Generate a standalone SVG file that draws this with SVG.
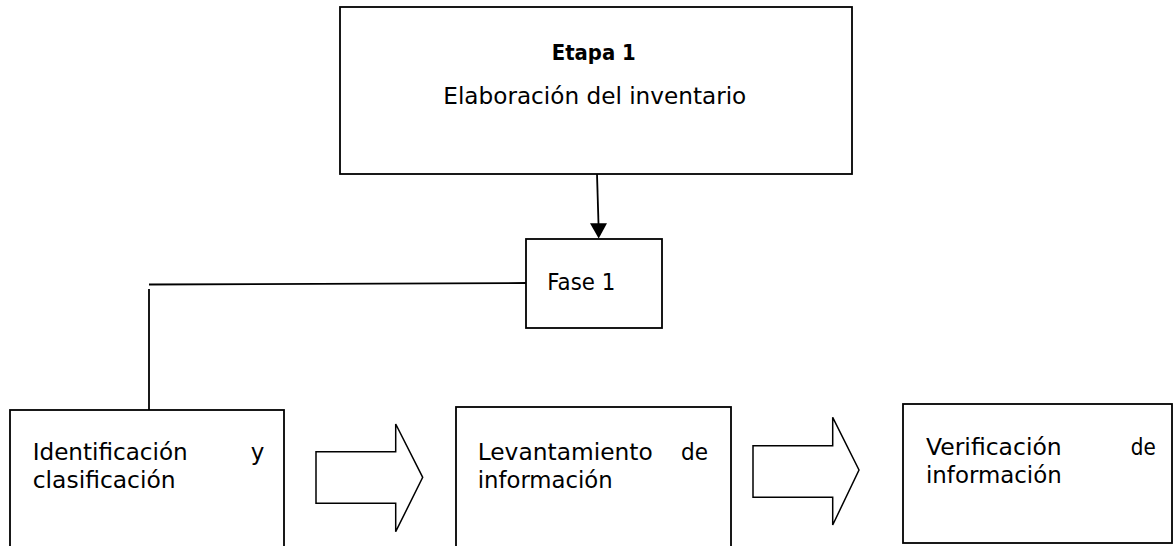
<svg xmlns="http://www.w3.org/2000/svg" width="1174" height="546" viewBox="0 0 1174 546">
<defs>
<style>
.box{fill:#fff;stroke:#000;stroke-width:1.8}
.ln{fill:none;stroke:#000;stroke-width:1.8}
.blk{fill:#fff;stroke:#000;stroke-width:1.5;stroke-linejoin:miter}
.t{font-family:"DejaVu Sans","Liberation Sans",sans-serif;font-size:23px;fill:#000}
.b{font-weight:bold;font-size:22px}
</style>
</defs>
<rect width="1174" height="546" fill="#fff"/>
<g id="connectors">
<line class="ln" x1="597" y1="174" x2="598.5" y2="224"/>
<polygon points="590,223.3 607,223.3 598.7,238.5" fill="#000"/>
<polyline class="ln" points="526,283 149,284.5"/>
<line class="ln" x1="149" y1="289" x2="149" y2="410"/>
<polygon class="blk" points="316,451.7 395.7,451.7 395.7,424 422.7,477.3 395.7,531.7 395.7,503.3 316,503.3"/>
<polygon class="blk" points="753,445.7 832.7,445.7 832.7,417.3 859,470 832.7,525 832.7,497.3 753,497.3"/>
</g>
<g id="etapa1">
<rect class="box" x="340" y="7" width="512" height="167"/>
<text class="t b" x="551.7" y="60" textLength="84" lengthAdjust="spacingAndGlyphs">Etapa 1</text>
<text class="t" x="443.3" y="104" textLength="303" lengthAdjust="spacingAndGlyphs">Elaboración del inventario</text>
</g>
<g id="fase1">
<rect class="box" x="526" y="239" width="136" height="89"/>
<text class="t" x="547.3" y="290" textLength="68" lengthAdjust="spacingAndGlyphs">Fase 1</text>
</g>
<g id="identificacion">
<rect class="box" x="10" y="410" width="274" height="150"/>
<text class="t"><tspan x="32.7" y="460" textLength="155" lengthAdjust="spacingAndGlyphs">Identificación</tspan> <tspan x="250.7" y="460">y</tspan> <tspan x="32.7" y="488" textLength="143" lengthAdjust="spacingAndGlyphs">clasificación</tspan></text>
</g>
<g id="levantamiento">
<rect class="box" x="456" y="407" width="275" height="153"/>
<text class="t"><tspan x="477.7" y="460" textLength="175" lengthAdjust="spacingAndGlyphs">Levantamiento</tspan> <tspan x="681" y="460" textLength="27" lengthAdjust="spacingAndGlyphs">de</tspan> <tspan x="477.7" y="488" textLength="135" lengthAdjust="spacingAndGlyphs">información</tspan></text>
</g>
<g id="verificacion">
<rect class="box" x="903" y="404" width="269" height="139"/>
<text class="t"><tspan x="926" y="455" textLength="135.7" lengthAdjust="spacingAndGlyphs">Verificación</tspan> <tspan x="1130.7" y="455" textLength="25" lengthAdjust="spacingAndGlyphs">de</tspan> <tspan x="926" y="483" textLength="135.7" lengthAdjust="spacingAndGlyphs">información</tspan></text>
</g>
</svg>
